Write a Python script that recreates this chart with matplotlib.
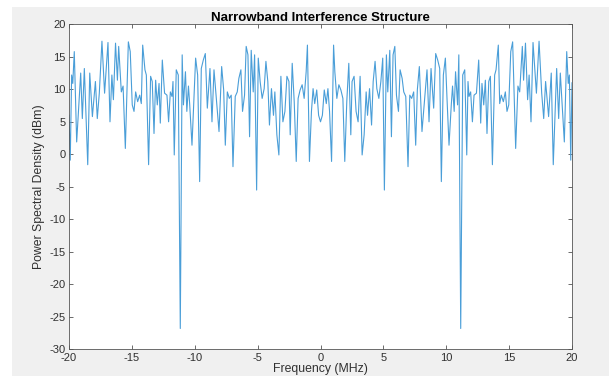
import matplotlib
matplotlib.use("Agg")
import matplotlib.pyplot as plt
from matplotlib.patches import Rectangle

# spectrum vertices (MHz, dBm)
freq_mhz = [
    -20.0, -19.9, -19.79, -19.7, -19.58, -19.39, -19.07, -18.94, -18.78, -18.51,
    -18.35, -18.14, -17.9, -17.75, -17.59, -17.38, -17.17, -16.9, -16.74, -16.59,
    -16.47, -16.3, -16.15, -16.05, -15.84, -15.7, -15.52, -15.28, -15.13, -14.97,
    -14.83, -14.7, -14.54, -14.38, -14.25, -14.14, -13.96, -13.85, -13.67, -13.51,
    -13.38, -13.24, -13.11, -12.98, -12.84, -12.74, -12.58, -12.4, -12.21, -12.08,
    -11.94, -11.81, -11.73, -11.63, -11.47, -11.31, -11.15, -11.0, -10.9, -10.74,
    -10.63, -10.5, -10.4, -10.22, -10.06, -9.93, -9.77, -9.61, -9.48, -9.32,
    -9.16, -9.0, -8.79, -8.63, -8.47, -8.26, -8.07, -7.86, -7.7, -7.57,
    -7.41, -7.25, -7.1, -6.96, -6.78, -6.62, -6.49, -6.33, -6.2, -6.04,
    -5.91, -5.77, -5.64, -5.51, -5.35, -5.24, -5.08, -4.95, -4.8, -4.64,
    -4.48, -4.34, -4.19, -4.06, -3.9, -3.74, -3.63, -3.47, -3.31, -3.15,
    -2.99, -2.83, -2.67, -2.51, -2.41, -2.25, -2.09, -1.93, -1.78, -1.62,
    -1.46, -1.3, -1.14, -1.04, -0.88, -0.72, -0.59, -0.46, -0.3, -0.15,
    0.0,
    0.15, 0.3, 0.46, 0.59, 0.72, 0.88, 1.04, 1.14, 1.3, 1.46,
    1.62, 1.78, 1.93, 2.09, 2.25, 2.41, 2.51, 2.67, 2.83, 2.99,
    3.15, 3.31, 3.47, 3.63, 3.74, 3.9, 4.06, 4.19, 4.34, 4.48,
    4.64, 4.8, 4.95, 5.08, 5.24, 5.35, 5.51, 5.64, 5.77, 5.91,
    6.04, 6.2, 6.33, 6.49, 6.62, 6.78, 6.96, 7.1, 7.25, 7.41,
    7.57, 7.7, 7.86, 8.07, 8.26, 8.47, 8.63, 8.79, 9.0, 9.16,
    9.32, 9.48, 9.61, 9.77, 9.93, 10.06, 10.22, 10.4, 10.5, 10.63,
    10.74, 10.9, 11.0, 11.15, 11.31, 11.47, 11.63, 11.73, 11.81, 11.94,
    12.08, 12.21, 12.4, 12.58, 12.74, 12.84, 12.98, 13.11, 13.24, 13.38,
    13.51, 13.67, 13.85, 13.96, 14.14, 14.25, 14.38, 14.54, 14.7, 14.83,
    14.97, 15.13, 15.28, 15.52, 15.7, 15.84, 16.05, 16.15, 16.3, 16.47,
    16.59, 16.74, 16.9, 17.17, 17.38, 17.59, 17.75, 17.9, 18.14, 18.35,
    18.51, 18.78, 18.94, 19.07, 19.39, 19.58, 19.7, 19.79, 19.9, 20.0,
]
psd_dbm = [
    6.0, -0.9, 12.2, 10.9, 15.8, 1.9, 12.5, 5.5, 13.2, -1.6,
    12.5, 5.8, 11.2, 5.5, 9.4, 17.4, 9.4, 17.2, 5.0, 12.2,
    8.4, 17.1, 11.4, 16.6, 9.6, 10.5, 0.9, 17.3, 15.8, 7.6,
    6.6, 9.6, 8.1, 9.1, 7.8, 16.8, 13.0, 12.2, -1.6, 12.0,
    11.2, 3.2, 11.4, 7.6, 10.9, 4.8, 14.5, 9.4, 9.1, 5.0,
    9.6, 8.9, 11.2, -0.1, 13.0, 12.2, -26.8, 15.3, 7.6, 12.7,
    6.6, 10.5, 7.6, 1.4, 8.6, 14.8, 12.2, -4.2, 13.2, 14.5,
    15.5, 7.1, 13.2, 5.0, 13.0, 8.1, 3.5, 13.5, 9.9, 1.4,
    9.6, 8.6, 9.1, -1.9, 8.9, 9.6, 11.7, 13.0, 6.6, 9.1,
    16.6, 15.3, 2.7, 16.0, 9.6, 15.3, -5.5, 14.8, 11.2, 8.6,
    10.1, 14.3, 11.2, 4.5, 10.1, 6.0, 9.6, 3.0, -0.1, 12.0,
    5.0, 6.6, 12.0, 11.2, 3.0, 14.0, 8.1, -1.1, 8.6, 9.9,
    10.7, 8.6, 12.7, 16.8, -1.1, 6.6, 10.1, 7.8, 9.9, 6.0,
    5.0,
    6.0, 9.9, 7.8, 10.1, 6.6, -1.1, 16.8, 12.7, 8.6, 10.7,
    9.9, 8.6, -1.1, 8.1, 14.0, 3.0, 11.2, 12.0, 6.6, 5.0,
    12.0, -0.1, 3.0, 9.6, 6.0, 10.1, 4.5, 11.2, 14.3, 10.1,
    8.6, 11.2, 14.8, -5.5, 15.3, 9.6, 16.0, 2.7, 15.3, 16.6,
    9.1, 6.6, 13.0, 11.7, 9.6, 8.9, -1.9, 9.1, 8.6, 9.6,
    1.4, 9.9, 13.5, 3.5, 8.1, 13.0, 5.0, 13.2, 7.1, 15.5,
    14.5, 13.2, -4.2, 12.2, 14.8, 8.6, 1.4, 7.6, 10.5, 6.6,
    12.7, 7.6, 15.3, -26.8, 12.2, 13.0, -0.1, 11.2, 8.9, 9.6,
    5.0, 9.1, 9.4, 14.5, 4.8, 10.9, 7.6, 11.4, 3.2, 11.2,
    12.0, -1.6, 12.2, 13.0, 16.8, 7.8, 9.1, 8.1, 9.6, 6.6,
    7.6, 15.8, 17.3, 0.9, 10.5, 9.6, 16.6, 11.4, 17.1, 8.4,
    12.2, 5.0, 17.2, 9.4, 17.4, 9.4, 5.5, 11.2, 5.8, 12.5,
    -1.6, 13.2, 5.5, 12.5, 1.9, 15.8, 10.9, 12.2, -0.9, 11.0,
]

x_ticks = [-20, -15, -10, -5, 0, 5, 10, 15, 20]
y_ticks = [-30, -25, -20, -15, -10, -5, 0, 5, 10, 15, 20]

plt.rcParams["font.family"] = ["Liberation Sans", "DejaVu Sans"]
plt.rcParams["axes.unicode_minus"] = False
ink = "#303030"

fig = plt.figure(figsize=(6.09, 3.76), dpi=100, facecolor="white")
# grey figure area of the screenshot (white strip on left/top)
fig.patches.append(Rectangle((12 / 609, 0), 1, (376 - 7) / 376,
                             transform=fig.transFigure, facecolor="#f0f0f0",
                             edgecolor="none", zorder=-10))

ax = fig.add_axes([69 / 609, (376 - 349.3) / 376, 503 / 609, 325 / 376])
ax.set_facecolor("white")
ax.plot(freq_mhz, psd_dbm, color="#4a9ed8", lw=0.8)

ax.set_xlim(-20, 20)
ax.set_ylim(-30, 20)
ax.set_xticks(x_ticks)
ax.set_yticks(y_ticks)
ax.tick_params(direction="in", length=3, width=0.5, colors=ink,
               labelsize=8, top=True, right=True, pad=2.5)
for s in ax.spines.values():
    s.set_linewidth(0.6)
    s.set_color("#555555")

ax.set_title("Narrowband Interference Structure", fontsize=9.5, fontweight="bold",
             color="black", pad=2.5)
ax.set_xlabel("Frequency (MHz)", fontsize=8.8, color=ink, labelpad=0.5)
ax.set_ylabel("Power Spectral Density (dBm)", fontsize=8.8, color=ink, labelpad=3)

fig.savefig("out.png", dpi=100, facecolor=fig.get_facecolor())
